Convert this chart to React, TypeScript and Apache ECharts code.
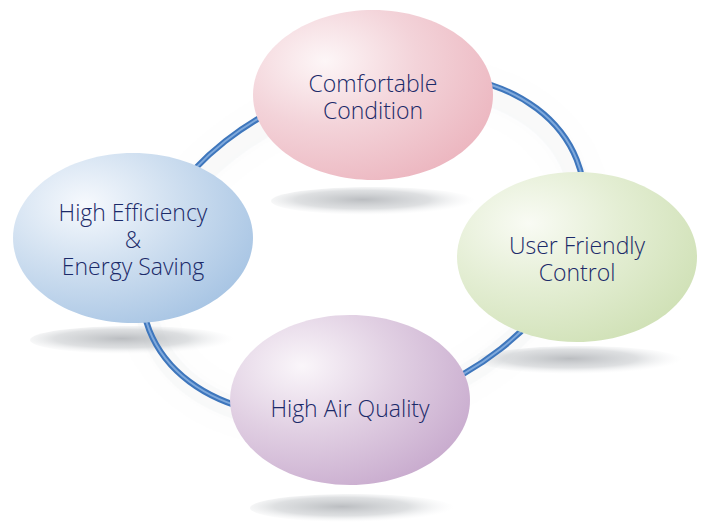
import React, { useEffect, useRef } from "react";
import * as echarts from "echarts";

// Diagram content (one array of lines per node)
const LABEL_LINES: string[][] = [
  ["Comfortable", "Condition"],
  ["User Friendly", "Control"],
  ["High Air Quality"],
  ["High Efficiency", "&", "Energy Saving"],
];
const EDGE_COLORS: string[] = ["#ebb2bc", "#cddfb2", "#c5a6cb", "#a2c1e2"];
const MID_COLORS: string[] = ["#f3d3d9", "#e4eed4", "#e1d0e3", "#cfdff0"];
const CENTER_COLORS: string[] = ["#fdf6f7", "#f9fbf4", "#faf6fa", "#f6f9fd"];

// Layout (positions / sizes)
const NODE_CX = [373, 577, 350, 133];
const NODE_CY = [95, 257, 400, 238];
const TEXT_CY = [96, 258, 408, 239];
const SHADOW_CX = [373, 580, 352, 132];
const SHADOW_CY = [201, 360, 508, 340];
const NODE_RX = 120;
const NODE_RY = 85;
const LINE_H = 27;

export default function App() {
  const ref = useRef<HTMLDivElement>(null);
  useEffect(() => {
    if (!ref.current) return;
    const chart = echarts.init(ref.current, null, { renderer: "svg" });
    const elements: any[] = [];

    // soft glow around the ring
    elements.push({
      type: "ellipse",
      x: 363,
      y: 252,
      rotation: 0.38,
      shape: { cx: 0, cy: 0, rx: 226, ry: 156 },
      style: {
        fill: "none",
        stroke: "rgba(160,165,172,0.06)",
        lineWidth: 22,
        shadowBlur: 30,
        shadowColor: "rgba(130,135,145,0.28)",
      },
      z: 1,
    });

    // shadows
    for (let i = 0; i < LABEL_LINES.length; i++) {
      elements.push({
        type: "ellipse",
        shape: { cx: SHADOW_CX[i], cy: SHADOW_CY[i], rx: 102, ry: 14 },
        style: {
          fill: {
            type: "radial",
            x: 0.45,
            y: 0.45,
            r: 0.55,
            colorStops: [
              { offset: 0, color: "rgba(175,178,182,0.85)" },
              { offset: 0.6, color: "rgba(200,203,206,0.6)" },
              { offset: 1, color: "rgba(235,237,239,0)" },
            ],
          },
        },
        z: 2,
      });
    }

    // ring (tube look)
    elements.push({
      type: "ellipse",
      x: 363,
      y: 245,
      rotation: 0.38,
      shape: { cx: 0, cy: 0, rx: 230, ry: 160 },
      style: { fill: "none", stroke: "#3e76bc", lineWidth: 6 },
      z: 3,
    });
    elements.push({
      type: "ellipse",
      x: 363,
      y: 245,
      rotation: 0.38,
      shape: { cx: 0, cy: 0, rx: 230, ry: 160 },
      style: { fill: "none", stroke: "#7fa9dc", lineWidth: 2 },
      z: 4,
    });

    // nodes
    for (let i = 0; i < LABEL_LINES.length; i++) {
      elements.push({
        type: "ellipse",
        shape: { cx: NODE_CX[i], cy: NODE_CY[i], rx: NODE_RX, ry: NODE_RY },
        style: {
          fill: {
            type: "radial",
            x: 0.3,
            y: 0.3,
            r: 0.85,
            colorStops: [
              { offset: 0, color: CENTER_COLORS[i] },
              { offset: 0.45, color: MID_COLORS[i] },
              { offset: 1, color: EDGE_COLORS[i] },
            ],
          },
        },
        z: 5,
      });
      const lines = LABEL_LINES[i];
      const top = TEXT_CY[i] - ((lines.length - 1) * LINE_H) / 2;
      lines.forEach((line, j) => {
        elements.push({
          type: "text",
          x: NODE_CX[i],
          y: top + j * LINE_H,
          style: {
            text: line,
            fill: "#1b2a69",
            fontFamily: "Open Sans",
            fontWeight: 300,
            fontSize: 23,
            align: "center",
            verticalAlign: "middle",
          },
          z: 6,
        });
      });
    }

    chart.setOption({
      animation: false,
      backgroundColor: "#ffffff",
      graphic: { elements },
    });
    return () => chart.dispose();
  }, []);
  return (
    <div
      ref={ref}
      style={{ position: "fixed", left: 0, top: 0, width: 701, height: 522 }}
    />
  );
}
